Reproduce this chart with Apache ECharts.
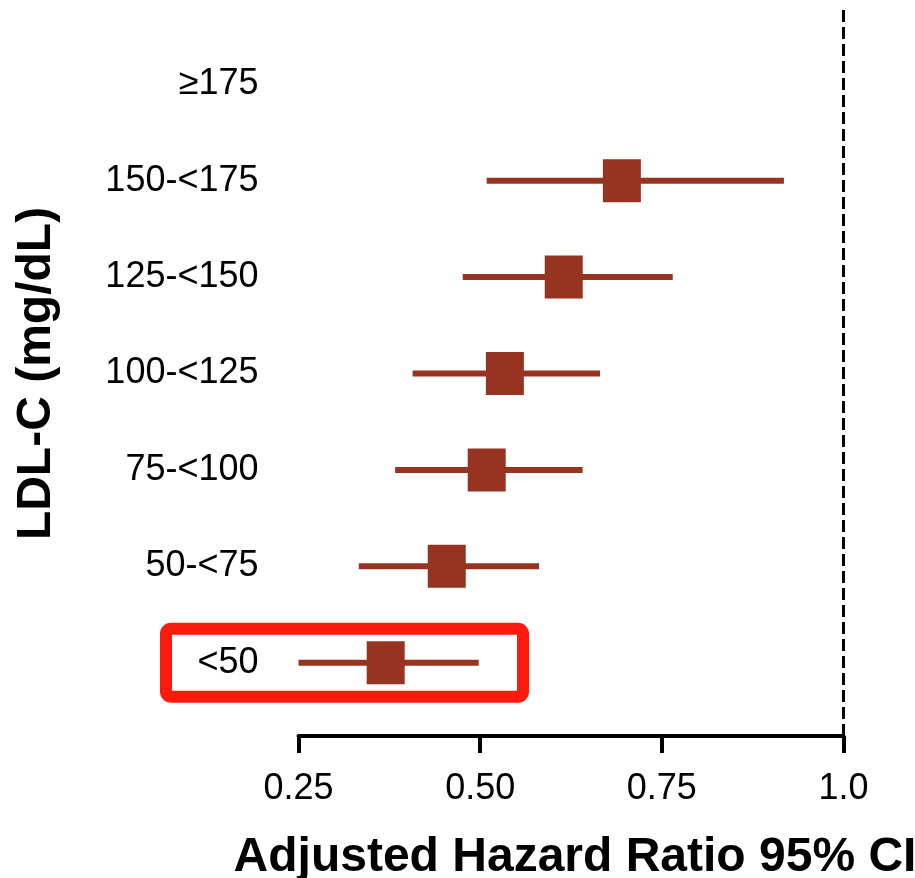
<!DOCTYPE html>
<html>
<head>
<meta charset="utf-8">
<script src="https://cdn.jsdelivr.net/npm/echarts@6/dist/echarts.min.js"></script>
<style>
  html, body { margin: 0; padding: 0; background: #fff; }
  #chart { width: 915px; height: 878px; }
</style>
</head>
<body>
<div id="chart"></div>
<script>
// LDL-C groups, bottom to top
const categories = ['<50', '50-<75', '75-<100', '100-<125', '125-<150', '150-<175', '≥175'];
// adjusted hazard ratio and 95% CI (no estimate for ≥175)
const hazardRatio = [0.37, 0.454, 0.509, 0.534, 0.615, 0.695, '-'];
const ciLower = [0.25, 0.333, 0.383, 0.407, 0.476, 0.509, '-'];
const ciUpper = [0.498, 0.581, 0.641, 0.665, 0.765, 0.918, '-'];
// x axis
const xTicks = [0.25, 0.5, 0.75, 1.0];
const xTickLabels = ['0.25', '0.50', '0.75', '1.0'];
const referenceLine = [1.0];
const highlighted = '<50';

const markColor = '#963321';
const font = "'Liberation Sans', Arial, Helvetica, sans-serif";

const chart = echarts.init(document.getElementById('chart'), null, { renderer: 'canvas' });

const errorBars = [];
const points = [];
categories.forEach((c, i) => {
    if (hazardRatio[i] === '-') return;
    errorBars.push([ciLower[i], ciUpper[i], i]);
    points.push([hazardRatio[i], c]);
});

const option = {
    animation: false,
    backgroundColor: '#fff',
    grid: { left: 298.5, right: 71.5, top: 36, bottom: 167, containLabel: false, outerBoundsMode: 'none' },
    xAxis: {
        type: 'value',
        min: 0.25,
        max: 1.0,
        interval: 0.25,
        offset: 25,
        splitLine: { show: false },
        axisLine: { show: true, lineStyle: { color: '#000', width: 4 } },
        axisTick: { show: true, length: 17, lineStyle: { color: '#000', width: 4 } },
        axisLabel: {
            margin: 35,
            fontSize: 36,
            fontFamily: font,
            color: '#000',
            formatter: v => xTickLabels[xTicks.indexOf(v)] ?? ''
        },
        name: 'Adjusted Hazard Ratio 95% CI',
        nameLocation: 'middle',
        nameGap: 98,
        nameTextStyle: { fontSize: 48, fontWeight: 'bold', fontFamily: font, color: '#000', padding: [0, 0, 0, 8] }
    },
    yAxis: {
        type: 'category',
        data: categories,
        boundaryGap: true,
        axisLine: { show: false },
        axisTick: { show: false },
        splitLine: { show: false },
        axisLabel: { margin: 40, fontSize: 36, fontFamily: font, color: '#000', padding: [12, 0, 0, 0] },
        name: 'LDL-C (mg/dL)',
        nameLocation: 'middle',
        nameGap: 238,
        nameRotate: 90,
        nameTextStyle: { fontSize: 48, fontWeight: 'bold', fontFamily: font, color: '#000' }
    },
    series: [
        {
            // dashed line of no effect, runs past the grid from top down to the axis line
            type: 'custom',
            silent: true,
            clip: false,
            data: referenceLine.map(v => [v]),
            encode: { x: 0 },
            renderItem: function (params, api) {
                const x = api.coord([api.value(0), 0])[0];
                const cs = params.coordSys;
                return {
                    type: 'line',
                    shape: { x1: x, y1: cs.y - 26, x2: x, y2: cs.y + cs.height + 25 },
                    style: { stroke: '#000', lineWidth: 3, lineDash: [12, 5] }
                };
            },
            z: 1
        },
        {
            type: 'custom',
            silent: true,
            data: errorBars,
            encode: { x: [0, 1], y: 2 },
            renderItem: function (params, api) {
                const start = api.coord([api.value(0), api.value(2)]);
                const end = api.coord([api.value(1), api.value(2)]);
                return {
                    type: 'line',
                    shape: { x1: start[0], y1: start[1], x2: end[0], y2: end[1] },
                    style: { stroke: markColor, lineWidth: 6 }
                };
            },
            z: 2
        },
        {
            type: 'scatter',
            data: points,
            symbol: 'rect',
            symbolSize: [38, 43],
            itemStyle: { color: markColor, opacity: 1 },
            z: 3
        }
    ]
};

chart.setOption(option);

// red box round the highlighted row
const rowY = chart.convertToPixel({ yAxisIndex: 0 }, highlighted);
chart.setOption({
    graphic: [{
        type: 'rect',
        silent: true,
        z: 10,
        shape: { x: 166, y: rowY - 34, width: 357, height: 68, r: 5 },
        style: { fill: 'none', stroke: '#ff1a0e', lineWidth: 12 }
    }]
});
</script>
</body>
</html>
